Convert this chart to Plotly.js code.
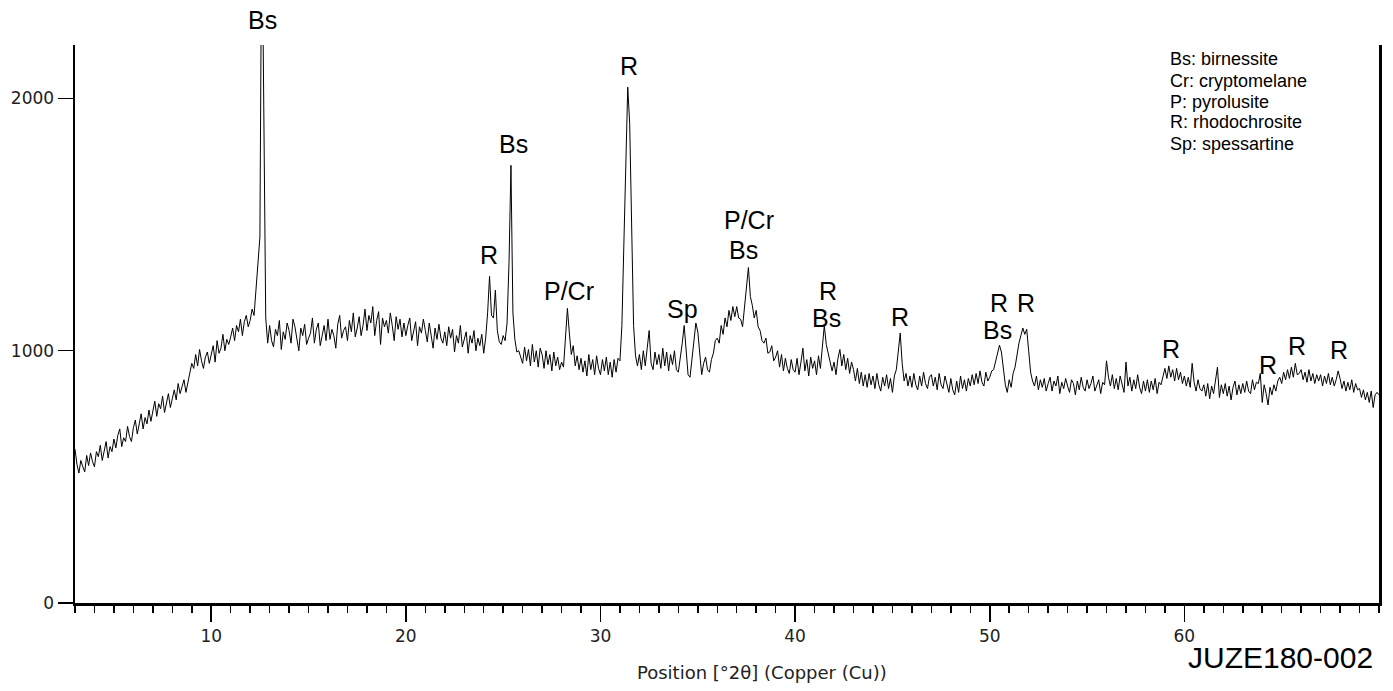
<!DOCTYPE html>
<html>
<head>
<meta charset="utf-8">
<script src="https://cdn.plot.ly/plotly-3.0.1.min.js"></script>
<style>html,body{margin:0;padding:0;background:#fff;}#chart{width:1393px;height:691px;}</style>
</head>
<body>
<div id="chart"></div>
<script>
// Scan: 2θ from 3.0° in 0.1° steps (Copper Cu Kα)
const twoThetaStart = 3.0;
const twoThetaStep = 0.1;
// Counts, one row per degree (x.0 ... x.9)
const counts = [
  610, 550, 515, 565, 540, 520, 585, 545, 595, 560,          // 3
  540, 600, 580, 625, 565, 610, 640, 575, 620, 600,          // 4
  650, 615, 665, 690, 620, 655, 640, 700, 660, 640,          // 5
  695, 725, 670, 710, 750, 690, 735, 710, 765, 720,          // 6
  760, 800, 740, 790, 770, 820, 755, 800, 830, 775,          // 7
  815, 845, 805, 870, 830, 860, 885, 835, 870, 915,          // 8
  950, 930, 985, 940, 1005, 960, 930, 975, 995, 950,         // 9
  980, 1020, 955, 1040, 990, 1010, 1065, 1000, 1045, 1025,   // 10
  1055, 1090, 1040, 1100, 1075, 1125, 1060, 1115, 1140, 1095,// 11
  1120, 1165, 1140, 1240, 1330, 1450, 2800, 1800, 1130, 1030,// 12
  1100, 1040, 1015, 1085, 1060, 1120, 1005, 1075, 1045, 1110,// 13
  1080, 1030, 1125, 1095, 1040, 1000, 1090, 1060, 1105, 1025,// 14
  1050, 1070, 1130, 1030, 1085, 1110, 1020, 1065, 1100, 1040,// 15
  1125, 1045, 1085, 1060, 1010, 1105, 1140, 1050, 1080, 1095,// 16
  1040, 1120, 1075, 1150, 1055, 1090, 1135, 1060, 1100, 1165,// 17
  1080, 1140, 1110, 1175, 1060, 1120, 1155, 1025, 1130, 1095,// 18
  1120, 1070, 1150, 1100, 1040, 1135, 1085, 1125, 1055, 1110,// 19
  1060, 1100, 1130, 1040, 1085, 1115, 1020, 1095, 1070, 1125,// 20
  1080, 1035, 1110, 1060, 1010, 1090, 1045, 1105, 1050, 1030,// 21
  1075, 1020, 1095, 1050, 1085, 995, 1060, 1030, 1100, 1015, // 22
  1045, 1075, 990, 1060, 1030, 1080, 1000, 1050, 1020, 1065, // 23
  990, 1050, 1150, 1295, 1140, 1130, 1240, 1080, 1035, 1025, // 24
  1060, 1040, 1110, 1350, 1735, 1150, 1045, 995, 1000, 970,  // 25
  950, 1015, 960, 1005, 940, 1025, 955, 1000, 935, 1010,     // 26
  985, 930, 1000, 945, 985, 920, 995, 940, 975, 925,         // 27
  955, 935, 1040, 1168, 1070, 985, 1020, 940, 980, 925,      // 28
  970, 915, 960, 900, 985, 925, 965, 905, 980, 930,          // 29
  905, 965, 920, 975, 905, 955, 895, 965, 915, 970,          // 30
  960, 1100, 1420, 1750, 2045, 1900, 1420, 1100, 980, 940,   // 31
  985, 925, 1000, 940, 1010, 1080, 950, 925, 995, 945,       // 32
  985, 930, 1010, 940, 995, 920, 985, 945, 1000, 925,        // 33
  915, 965, 1030, 1100, 1005, 905, 895, 970, 1060, 1110,     // 34
  1075, 975, 905, 950, 975, 925, 915, 965, 990, 1040,        // 35
  1050, 1030, 1100, 1065, 1130, 1095, 1160, 1120, 1175, 1135,// 36
  1175, 1130, 1125, 1095, 1165, 1250, 1330, 1215, 1180, 1130,// 37
  1160, 1095, 1080, 1040, 1030, 1050, 990, 995, 1020, 960,   // 38
  975, 1000, 935, 985, 920, 970, 930, 910, 965, 925,         // 39
  915, 970, 905, 955, 1010, 920, 965, 900, 975, 930,         // 40
  960, 905, 980, 930, 1015, 1100, 1025, 990, 945, 920,       // 41
  955, 905, 970, 1005, 940, 985, 925, 970, 910, 955,         // 42
  925, 880, 930, 870, 915, 860, 905, 855, 910, 865,          // 43
  900, 850, 910, 865, 840, 895, 860, 905, 850, 890,          // 44
  835, 900, 925, 995, 1070, 950, 880, 910, 860, 900,         // 45
  855, 910, 865, 845, 900, 860, 915, 870, 850, 895,          // 46
  905, 860, 895, 845, 910, 865, 850, 900, 860, 835,          // 47
  890, 845, 825, 880, 835, 900, 850, 885, 840, 890,          // 48
  860, 905, 865, 910, 870, 920, 875, 860, 915, 880,          // 49
  895, 920, 925, 960, 1000, 1022, 995, 935, 865, 835,        // 50
  885, 855, 910, 935, 985, 1030, 1060, 1090, 1065, 1085,     // 51
  1000, 915, 880, 860, 900, 845, 885, 855, 890, 840,         // 52
  870, 895, 840, 880, 860, 900, 830, 875, 850, 890,          // 53
  860, 835, 885, 870, 825, 880, 845, 895, 855, 840,          // 54
  885, 850, 870, 900, 840, 860, 885, 830, 875, 865,          // 55
  960, 895, 860, 905, 850, 890, 845, 900, 860, 835,          // 56
  955, 860, 895, 840, 885, 850, 905, 855, 830, 880,          // 57
  840, 885, 835, 880, 845, 890, 830, 875, 865, 895,          // 58
  930, 890, 940, 895, 925, 880, 930, 885, 915, 870,          // 59
  900, 860, 895, 855, 950, 875, 840, 885, 850, 840,          // 60
  865, 820, 870, 810, 860, 830, 875, 935, 815, 865,          // 61
  830, 870, 820, 860, 805, 855, 880, 825, 865, 830,          // 62
  870, 835, 880, 840, 830, 885, 845, 875, 870, 910,          // 63
  795, 865, 830, 785, 855, 825, 865, 840, 880, 895,          // 64
  870, 915, 885, 925, 890, 935, 895, 950, 905, 910,          // 65
  925, 885, 915, 875, 925, 880, 910, 870, 905, 880,          // 66
  905, 860, 900, 870, 910, 865, 895, 860, 885, 920,          // 67
  890, 850, 880, 840, 875, 845, 885, 835, 870, 845,          // 68
  850, 815, 845, 805, 835, 795, 840, 775, 825, 835,          // 69
  825                                                        // 70.0
];

// Phase labels on the peaks (the first one sits above the clipped Bs peak)
const peakLabels = ["R", "Bs", "P/Cr", "R", "Sp", "P/Cr", "Bs", "R", "Bs", "R", "R", "Bs", "R", "R", "R", "R", "R"];
const peakLabelTheta = [24.28, 25.54, 28.39, 31.48, 34.2, 37.63, 37.36, 41.7, 41.6, 45.4, 50.47, 50.41, 51.88, 59.3, 64.3, 65.78, 67.94];
const peakLabelCounts = [1378, 1818, 1236, 2127, 1165, 1520, 1398, 1235, 1129, 1132, 1189, 1083, 1189, 1008, 945, 1017, 1001];
const topLabel = "Bs";
const topLabelTheta = 12.62;

// Key of abbreviations
const keyLines = ["Bs: birnessite", "Cr: cryptomelane", "P: pyrolusite", "R: rhodochrosite", "Sp: spessartine"];
const keyCounts = [2155, 2071, 1988, 1905, 1818];
const sampleName = "JUZE180-002";
const xAxisTitle = "Position [°2θ] (Copper (Cu))";
const xTicks = [10, 20, 30, 40, 50, 60];
const yTicks = [0, 1000, 2000];

const theta = counts.map((_, i) => +(twoThetaStart + i * twoThetaStep).toFixed(2));

const labelFont = {family: "Liberation Sans, Arial, sans-serif", size: 25, color: "#000"};
const annotations = [];
annotations.push({
  x: topLabelTheta, y: 1.045, xref: "x", yref: "paper",
  text: topLabel, showarrow: false, xanchor: "center", yanchor: "middle", font: labelFont
});
peakLabels.forEach((t, i) => {
  annotations.push({
    x: peakLabelTheta[i], y: peakLabelCounts[i], xref: "x", yref: "y",
    text: t, showarrow: false, xanchor: "center", yanchor: "middle", font: labelFont
  });
});
keyLines.forEach((t, i) => {
  annotations.push({
    x: 0.8385, y: keyCounts[i], xref: "paper", yref: "y",
    text: t, showarrow: false, xanchor: "left", yanchor: "middle",
    font: {family: "Liberation Sans, Arial, sans-serif", size: 18, color: "#000"}
  });
});
annotations.push({
  x: 0.997, y: -0.098, xref: "paper", yref: "paper",
  text: sampleName, showarrow: false, xanchor: "right", yanchor: "middle",
  font: {family: "Liberation Sans, Arial, sans-serif", size: 30, color: "#000"}
});
annotations.push({
  x: 0.527, y: -0.124, xref: "paper", yref: "paper",
  text: xAxisTitle, showarrow: false, xanchor: "center", yanchor: "middle",
  font: {family: "DejaVu Sans, sans-serif", size: 18, color: "#222"}
});

const trace = {
  x: theta, y: counts, type: "scatter", mode: "lines",
  line: {color: "#000", width: 1}, hoverinfo: "x+y"
};

const tickFont = {family: "DejaVu Sans, sans-serif", size: 17, color: "#222"};

const layout = {
  width: 1393, height: 691,
  margin: {l: 75, r: 14, t: 45, b: 88},
  paper_bgcolor: "#fff", plot_bgcolor: "#fff",
  showlegend: false,
  xaxis: {
    range: [3, 70], tickvals: xTicks, ticktext: xTicks.map(String),
    ticks: "outside", ticklen: 16, tickwidth: 1.5, tickcolor: "#000",
    showline: true, linewidth: 2.5, linecolor: "#000", mirror: false,
    showgrid: false, zeroline: false, tickfont: tickFont,
    minor: {dtick: 1, tick0: 0, ticks: "outside", ticklen: 7, tickwidth: 1.5, tickcolor: "#000", showgrid: false}
  },
  yaxis: {
    range: [0, 2212], tickvals: yTicks, ticktext: yTicks.map(String),
    ticks: "outside", ticklen: 15, tickwidth: 1.5, tickcolor: "#000",
    showline: true, linewidth: 2.5, linecolor: "#000", mirror: true,
    showgrid: false, zeroline: false, tickfont: tickFont
  },
  annotations: annotations
};

Plotly.newPlot("chart", [trace], layout, {displayModeBar: false, staticPlot: true});
</script>
</body>
</html>
